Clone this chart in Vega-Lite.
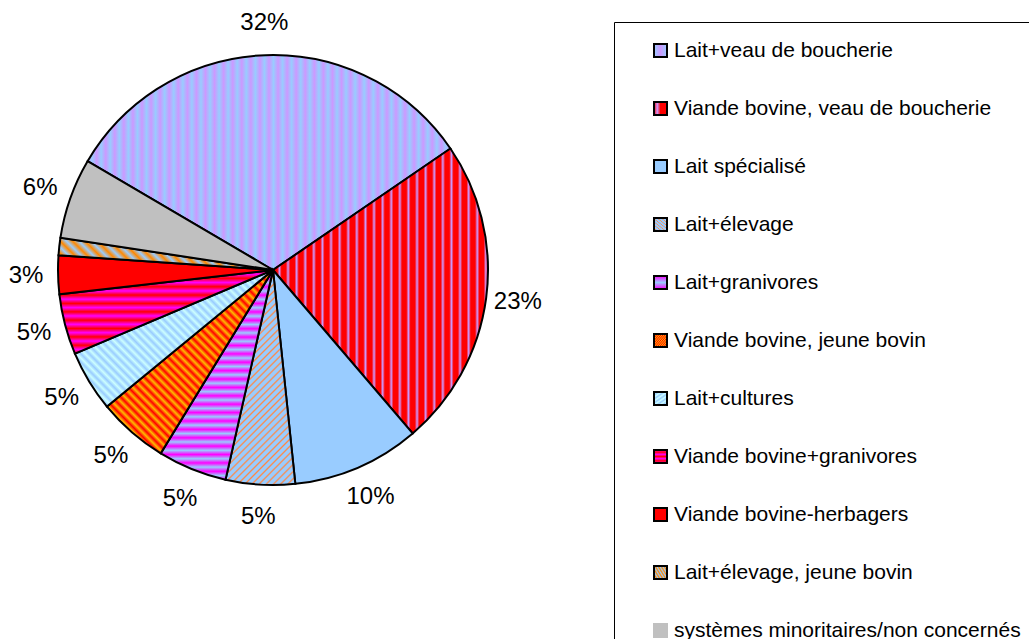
{
  "$schema": "https://vega.github.io/schema/vega-lite/v6.json",
  "width": 546,
  "height": 540,
  "autosize": {"type": "none"},
  "padding": {"left": 0, "top": 0, "right": 483, "bottom": 99},
  "background": "white",
  "config": {"view": {"stroke": null}, "font": "Liberation Sans"},
  "data": {
    "values": [
      {"idx": 1, "name": "Lait+veau de boucherie", "share": 0.32},
      {"idx": 2, "name": "Viande bovine, veau de boucherie", "share": 0.233},
      {"idx": 3, "name": "Lait spécialisé", "share": 0.096},
      {"idx": 4, "name": "Lait+élevage", "share": 0.052},
      {"idx": 5, "name": "Lait+granivores", "share": 0.052},
      {"idx": 6, "name": "Viande bovine, jeune bovin", "share": 0.053},
      {"idx": 7, "name": "Lait+cultures", "share": 0.046},
      {"idx": 8, "name": "Viande bovine+granivores", "share": 0.0455},
      {"idx": 9, "name": "Viande bovine-herbagers", "share": 0.029},
      {"idx": 10, "name": "Lait+élevage, jeune bovin", "share": 0.013},
      {"idx": 11, "name": "systèmes minoritaires/non concernés", "share": 0.0605}
    ]
  },
  "encoding": {
    "theta": {"field": "share", "type": "quantitative", "stack": true, "scale": {"domain": [0, 1], "range": [-1.0402, 5.2430]}},
    "order": {"field": "idx", "type": "quantitative"}
  },
  "layer": [
    {
      "mark": {"type": "arc", "outerRadius": 215, "stroke": "#000", "strokeWidth": 2},
      "encoding": {
        "color": {
          "field": "name",
          "type": "nominal",
          "scale": {
            "domain": ["Lait+veau de boucherie", "Viande bovine, veau de boucherie", "Lait spécialisé", "Lait+élevage", "Lait+granivores", "Viande bovine, jeune bovin", "Lait+cultures", "Viande bovine+granivores", "Viande bovine-herbagers", "Lait+élevage, jeune bovin", "systèmes minoritaires/non concernés"],
            "range": [
              {"expr": "{gradient:'linear',x1:0,y1:0,x2:1,y2:0,stops:[{offset:0,color:'#c9f'},{offset:0.0125,color:'#9cf'},{offset:0.025,color:'#c9f'},{offset:0.0375,color:'#9cf'},{offset:0.05,color:'#c9f'},{offset:0.0625,color:'#9cf'},{offset:0.075,color:'#c9f'},{offset:0.0875,color:'#9cf'},{offset:0.1,color:'#c9f'},{offset:0.1125,color:'#9cf'},{offset:0.125,color:'#c9f'},{offset:0.1375,color:'#9cf'},{offset:0.15,color:'#c9f'},{offset:0.1625,color:'#9cf'},{offset:0.175,color:'#c9f'},{offset:0.1875,color:'#9cf'},{offset:0.2,color:'#c9f'},{offset:0.2125,color:'#9cf'},{offset:0.225,color:'#c9f'},{offset:0.2375,color:'#9cf'},{offset:0.25,color:'#c9f'},{offset:0.2625,color:'#9cf'},{offset:0.275,color:'#c9f'},{offset:0.2875,color:'#9cf'},{offset:0.3,color:'#c9f'},{offset:0.3125,color:'#9cf'},{offset:0.325,color:'#c9f'},{offset:0.3375,color:'#9cf'},{offset:0.35,color:'#c9f'},{offset:0.3625,color:'#9cf'},{offset:0.375,color:'#c9f'},{offset:0.3875,color:'#9cf'},{offset:0.4,color:'#c9f'},{offset:0.4125,color:'#9cf'},{offset:0.425,color:'#c9f'},{offset:0.4375,color:'#9cf'},{offset:0.45,color:'#c9f'},{offset:0.4625,color:'#9cf'},{offset:0.475,color:'#c9f'},{offset:0.4875,color:'#9cf'},{offset:0.5,color:'#c9f'},{offset:0.5125,color:'#9cf'},{offset:0.525,color:'#c9f'},{offset:0.5375,color:'#9cf'},{offset:0.55,color:'#c9f'},{offset:0.5625,color:'#9cf'},{offset:0.575,color:'#c9f'},{offset:0.5875,color:'#9cf'},{offset:0.6,color:'#c9f'},{offset:0.6125,color:'#9cf'},{offset:0.625,color:'#c9f'},{offset:0.6375,color:'#9cf'},{offset:0.65,color:'#c9f'},{offset:0.6625,color:'#9cf'},{offset:0.675,color:'#c9f'},{offset:0.6875,color:'#9cf'},{offset:0.7,color:'#c9f'},{offset:0.7125,color:'#9cf'},{offset:0.725,color:'#c9f'},{offset:0.7375,color:'#9cf'},{offset:0.75,color:'#c9f'},{offset:0.7625,color:'#9cf'},{offset:0.775,color:'#c9f'},{offset:0.7875,color:'#9cf'},{offset:0.8,color:'#c9f'},{offset:0.8125,color:'#9cf'},{offset:0.825,color:'#c9f'},{offset:0.8375,color:'#9cf'},{offset:0.85,color:'#c9f'},{offset:0.8625,color:'#9cf'},{offset:0.875,color:'#c9f'},{offset:0.8875,color:'#9cf'},{offset:0.9,color:'#c9f'},{offset:0.9125,color:'#9cf'},{offset:0.925,color:'#c9f'},{offset:0.9375,color:'#9cf'},{offset:0.95,color:'#c9f'},{offset:0.9625,color:'#9cf'},{offset:0.975,color:'#c9f'},{offset:0.9875,color:'#9cf'},{offset:1,color:'#c9f'}]}"},
              {"expr": "{gradient:'linear',x1:0,y1:0,x2:1,y2:0,stops:[{offset:0,color:'#f00'},{offset:0.02,color:'#f00'},{offset:0.03,color:'#c9f'},{offset:0.04,color:'#f00'},{offset:0.06,color:'#f00'},{offset:0.07,color:'#c9f'},{offset:0.08,color:'#f00'},{offset:0.1,color:'#f00'},{offset:0.11,color:'#c9f'},{offset:0.12,color:'#f00'},{offset:0.14,color:'#f00'},{offset:0.15,color:'#c9f'},{offset:0.16,color:'#f00'},{offset:0.18,color:'#f00'},{offset:0.19,color:'#c9f'},{offset:0.2,color:'#f00'},{offset:0.22,color:'#f00'},{offset:0.23,color:'#c9f'},{offset:0.24,color:'#f00'},{offset:0.26,color:'#f00'},{offset:0.27,color:'#c9f'},{offset:0.28,color:'#f00'},{offset:0.3,color:'#f00'},{offset:0.31,color:'#c9f'},{offset:0.32,color:'#f00'},{offset:0.34,color:'#f00'},{offset:0.35,color:'#c9f'},{offset:0.36,color:'#f00'},{offset:0.38,color:'#f00'},{offset:0.39,color:'#c9f'},{offset:0.4,color:'#f00'},{offset:0.42,color:'#f00'},{offset:0.43,color:'#c9f'},{offset:0.44,color:'#f00'},{offset:0.46,color:'#f00'},{offset:0.47,color:'#c9f'},{offset:0.48,color:'#f00'},{offset:0.5,color:'#f00'},{offset:0.51,color:'#c9f'},{offset:0.52,color:'#f00'},{offset:0.54,color:'#f00'},{offset:0.55,color:'#c9f'},{offset:0.56,color:'#f00'},{offset:0.58,color:'#f00'},{offset:0.59,color:'#c9f'},{offset:0.6,color:'#f00'},{offset:0.62,color:'#f00'},{offset:0.63,color:'#c9f'},{offset:0.64,color:'#f00'},{offset:0.66,color:'#f00'},{offset:0.67,color:'#c9f'},{offset:0.68,color:'#f00'},{offset:0.7,color:'#f00'},{offset:0.71,color:'#c9f'},{offset:0.72,color:'#f00'},{offset:0.74,color:'#f00'},{offset:0.75,color:'#c9f'},{offset:0.76,color:'#f00'},{offset:0.78,color:'#f00'},{offset:0.79,color:'#c9f'},{offset:0.8,color:'#f00'},{offset:0.82,color:'#f00'},{offset:0.83,color:'#c9f'},{offset:0.84,color:'#f00'},{offset:0.86,color:'#f00'},{offset:0.87,color:'#c9f'},{offset:0.88,color:'#f00'},{offset:0.9,color:'#f00'},{offset:0.91,color:'#c9f'},{offset:0.92,color:'#f00'},{offset:0.94,color:'#f00'},{offset:0.95,color:'#c9f'},{offset:0.96,color:'#f00'},{offset:0.98,color:'#f00'},{offset:0.99,color:'#c9f'},{offset:1,color:'#f00'}]}"},
              "#99CCFF",
              {"expr": "{gradient:'linear',x1:0,y1:0,x2:0.39,y2:1.2,stops:[{offset:0,color:'#9cf'},{offset:0.0125,color:'#9cf'},{offset:0.01875,color:'#f84'},{offset:0.025,color:'#9cf'},{offset:0.0375,color:'#9cf'},{offset:0.04375,color:'#f84'},{offset:0.05,color:'#9cf'},{offset:0.0625,color:'#9cf'},{offset:0.06875,color:'#f84'},{offset:0.075,color:'#9cf'},{offset:0.0875,color:'#9cf'},{offset:0.09375,color:'#f84'},{offset:0.1,color:'#9cf'},{offset:0.1125,color:'#9cf'},{offset:0.11875,color:'#f84'},{offset:0.125,color:'#9cf'},{offset:0.1375,color:'#9cf'},{offset:0.14375,color:'#f84'},{offset:0.15,color:'#9cf'},{offset:0.1625,color:'#9cf'},{offset:0.16875,color:'#f84'},{offset:0.175,color:'#9cf'},{offset:0.1875,color:'#9cf'},{offset:0.19375,color:'#f84'},{offset:0.2,color:'#9cf'},{offset:0.2125,color:'#9cf'},{offset:0.21875,color:'#f84'},{offset:0.225,color:'#9cf'},{offset:0.2375,color:'#9cf'},{offset:0.24375,color:'#f84'},{offset:0.25,color:'#9cf'},{offset:0.2625,color:'#9cf'},{offset:0.26875,color:'#f84'},{offset:0.275,color:'#9cf'},{offset:0.2875,color:'#9cf'},{offset:0.29375,color:'#f84'},{offset:0.3,color:'#9cf'},{offset:0.3125,color:'#9cf'},{offset:0.31875,color:'#f84'},{offset:0.325,color:'#9cf'},{offset:0.3375,color:'#9cf'},{offset:0.34375,color:'#f84'},{offset:0.35,color:'#9cf'},{offset:0.3625,color:'#9cf'},{offset:0.36875,color:'#f84'},{offset:0.375,color:'#9cf'},{offset:0.3875,color:'#9cf'},{offset:0.39375,color:'#f84'},{offset:0.4,color:'#9cf'},{offset:0.4125,color:'#9cf'},{offset:0.41875,color:'#f84'},{offset:0.425,color:'#9cf'},{offset:0.4375,color:'#9cf'},{offset:0.44375,color:'#f84'},{offset:0.45,color:'#9cf'},{offset:0.4625,color:'#9cf'},{offset:0.46875,color:'#f84'},{offset:0.475,color:'#9cf'},{offset:0.4875,color:'#9cf'},{offset:0.49375,color:'#f84'},{offset:0.5,color:'#9cf'},{offset:0.5125,color:'#9cf'},{offset:0.51875,color:'#f84'},{offset:0.525,color:'#9cf'},{offset:0.5375,color:'#9cf'},{offset:0.54375,color:'#f84'},{offset:0.55,color:'#9cf'},{offset:0.5625,color:'#9cf'},{offset:0.56875,color:'#f84'},{offset:0.575,color:'#9cf'},{offset:0.5875,color:'#9cf'},{offset:0.59375,color:'#f84'},{offset:0.6,color:'#9cf'},{offset:0.6125,color:'#9cf'},{offset:0.61875,color:'#f84'},{offset:0.625,color:'#9cf'},{offset:0.6375,color:'#9cf'},{offset:0.64375,color:'#f84'},{offset:0.65,color:'#9cf'},{offset:0.6625,color:'#9cf'},{offset:0.66875,color:'#f84'},{offset:0.675,color:'#9cf'},{offset:0.6875,color:'#9cf'},{offset:0.69375,color:'#f84'},{offset:0.7,color:'#9cf'},{offset:0.7125,color:'#9cf'},{offset:0.71875,color:'#f84'},{offset:0.725,color:'#9cf'},{offset:0.7375,color:'#9cf'},{offset:0.74375,color:'#f84'},{offset:0.75,color:'#9cf'},{offset:0.7625,color:'#9cf'},{offset:0.76875,color:'#f84'},{offset:0.775,color:'#9cf'},{offset:0.7875,color:'#9cf'},{offset:0.79375,color:'#f84'},{offset:0.8,color:'#9cf'},{offset:0.8125,color:'#9cf'},{offset:0.81875,color:'#f84'},{offset:0.825,color:'#9cf'},{offset:0.8375,color:'#9cf'},{offset:0.84375,color:'#f84'},{offset:0.85,color:'#9cf'},{offset:0.8625,color:'#9cf'},{offset:0.86875,color:'#f84'},{offset:0.875,color:'#9cf'},{offset:0.8875,color:'#9cf'},{offset:0.89375,color:'#f84'},{offset:0.9,color:'#9cf'},{offset:0.9125,color:'#9cf'},{offset:0.91875,color:'#f84'},{offset:0.925,color:'#9cf'},{offset:0.9375,color:'#9cf'},{offset:0.94375,color:'#f84'},{offset:0.95,color:'#9cf'},{offset:0.9625,color:'#9cf'},{offset:0.96875,color:'#f84'},{offset:0.975,color:'#9cf'},{offset:0.9875,color:'#9cf'},{offset:0.99375,color:'#f84'},{offset:1,color:'#9cf'}]}"},
              {"expr": "{gradient:'linear',x1:0,y1:0,x2:0,y2:1,stops:[{offset:0,color:'#f0f'},{offset:0.02,color:'#9cf'},{offset:0.04,color:'#f0f'},{offset:0.06,color:'#9cf'},{offset:0.08,color:'#f0f'},{offset:0.1,color:'#9cf'},{offset:0.12,color:'#f0f'},{offset:0.14,color:'#9cf'},{offset:0.16,color:'#f0f'},{offset:0.18,color:'#9cf'},{offset:0.2,color:'#f0f'},{offset:0.22,color:'#9cf'},{offset:0.24,color:'#f0f'},{offset:0.26,color:'#9cf'},{offset:0.28,color:'#f0f'},{offset:0.3,color:'#9cf'},{offset:0.32,color:'#f0f'},{offset:0.34,color:'#9cf'},{offset:0.36,color:'#f0f'},{offset:0.38,color:'#9cf'},{offset:0.4,color:'#f0f'},{offset:0.42,color:'#9cf'},{offset:0.44,color:'#f0f'},{offset:0.46,color:'#9cf'},{offset:0.48,color:'#f0f'},{offset:0.5,color:'#9cf'},{offset:0.52,color:'#f0f'},{offset:0.54,color:'#9cf'},{offset:0.56,color:'#f0f'},{offset:0.58,color:'#9cf'},{offset:0.6,color:'#f0f'},{offset:0.62,color:'#9cf'},{offset:0.64,color:'#f0f'},{offset:0.66,color:'#9cf'},{offset:0.68,color:'#f0f'},{offset:0.7,color:'#9cf'},{offset:0.72,color:'#f0f'},{offset:0.74,color:'#9cf'},{offset:0.76,color:'#f0f'},{offset:0.78,color:'#9cf'},{offset:0.8,color:'#f0f'},{offset:0.82,color:'#9cf'},{offset:0.84,color:'#f0f'},{offset:0.86,color:'#9cf'},{offset:0.88,color:'#f0f'},{offset:0.9,color:'#9cf'},{offset:0.92,color:'#f0f'},{offset:0.94,color:'#9cf'},{offset:0.96,color:'#f0f'},{offset:0.98,color:'#9cf'},{offset:1,color:'#f0f'}]}"},
              {"expr": "{gradient:'linear',x1:0,y1:1,x2:0.952,y2:-0.043,stops:[{offset:0,color:'#f00'},{offset:0.0125,color:'#fb0'},{offset:0.025,color:'#f00'},{offset:0.0375,color:'#fb0'},{offset:0.05,color:'#f00'},{offset:0.0625,color:'#fb0'},{offset:0.075,color:'#f00'},{offset:0.0875,color:'#fb0'},{offset:0.1,color:'#f00'},{offset:0.1125,color:'#fb0'},{offset:0.125,color:'#f00'},{offset:0.1375,color:'#fb0'},{offset:0.15,color:'#f00'},{offset:0.1625,color:'#fb0'},{offset:0.175,color:'#f00'},{offset:0.1875,color:'#fb0'},{offset:0.2,color:'#f00'},{offset:0.2125,color:'#fb0'},{offset:0.225,color:'#f00'},{offset:0.2375,color:'#fb0'},{offset:0.25,color:'#f00'},{offset:0.2625,color:'#fb0'},{offset:0.275,color:'#f00'},{offset:0.2875,color:'#fb0'},{offset:0.3,color:'#f00'},{offset:0.3125,color:'#fb0'},{offset:0.325,color:'#f00'},{offset:0.3375,color:'#fb0'},{offset:0.35,color:'#f00'},{offset:0.3625,color:'#fb0'},{offset:0.375,color:'#f00'},{offset:0.3875,color:'#fb0'},{offset:0.4,color:'#f00'},{offset:0.4125,color:'#fb0'},{offset:0.425,color:'#f00'},{offset:0.4375,color:'#fb0'},{offset:0.45,color:'#f00'},{offset:0.4625,color:'#fb0'},{offset:0.475,color:'#f00'},{offset:0.4875,color:'#fb0'},{offset:0.5,color:'#f00'},{offset:0.5125,color:'#fb0'},{offset:0.525,color:'#f00'},{offset:0.5375,color:'#fb0'},{offset:0.55,color:'#f00'},{offset:0.5625,color:'#fb0'},{offset:0.575,color:'#f00'},{offset:0.5875,color:'#fb0'},{offset:0.6,color:'#f00'},{offset:0.6125,color:'#fb0'},{offset:0.625,color:'#f00'},{offset:0.6375,color:'#fb0'},{offset:0.65,color:'#f00'},{offset:0.6625,color:'#fb0'},{offset:0.675,color:'#f00'},{offset:0.6875,color:'#fb0'},{offset:0.7,color:'#f00'},{offset:0.7125,color:'#fb0'},{offset:0.725,color:'#f00'},{offset:0.7375,color:'#fb0'},{offset:0.75,color:'#f00'},{offset:0.7625,color:'#fb0'},{offset:0.775,color:'#f00'},{offset:0.7875,color:'#fb0'},{offset:0.8,color:'#f00'},{offset:0.8125,color:'#fb0'},{offset:0.825,color:'#f00'},{offset:0.8375,color:'#fb0'},{offset:0.85,color:'#f00'},{offset:0.8625,color:'#fb0'},{offset:0.875,color:'#f00'},{offset:0.8875,color:'#fb0'},{offset:0.9,color:'#f00'},{offset:0.9125,color:'#fb0'},{offset:0.925,color:'#f00'},{offset:0.9375,color:'#fb0'},{offset:0.95,color:'#f00'},{offset:0.9625,color:'#fb0'},{offset:0.975,color:'#f00'},{offset:0.9875,color:'#fb0'},{offset:1,color:'#f00'}]}"},
              {"expr": "{gradient:'linear',x1:0,y1:1,x2:1.147,y2:0.214,stops:[{offset:0,color:'#9cf'},{offset:0.0125,color:'#cff'},{offset:0.025,color:'#9cf'},{offset:0.0375,color:'#cff'},{offset:0.05,color:'#9cf'},{offset:0.0625,color:'#cff'},{offset:0.075,color:'#9cf'},{offset:0.0875,color:'#cff'},{offset:0.1,color:'#9cf'},{offset:0.1125,color:'#cff'},{offset:0.125,color:'#9cf'},{offset:0.1375,color:'#cff'},{offset:0.15,color:'#9cf'},{offset:0.1625,color:'#cff'},{offset:0.175,color:'#9cf'},{offset:0.1875,color:'#cff'},{offset:0.2,color:'#9cf'},{offset:0.2125,color:'#cff'},{offset:0.225,color:'#9cf'},{offset:0.2375,color:'#cff'},{offset:0.25,color:'#9cf'},{offset:0.2625,color:'#cff'},{offset:0.275,color:'#9cf'},{offset:0.2875,color:'#cff'},{offset:0.3,color:'#9cf'},{offset:0.3125,color:'#cff'},{offset:0.325,color:'#9cf'},{offset:0.3375,color:'#cff'},{offset:0.35,color:'#9cf'},{offset:0.3625,color:'#cff'},{offset:0.375,color:'#9cf'},{offset:0.3875,color:'#cff'},{offset:0.4,color:'#9cf'},{offset:0.4125,color:'#cff'},{offset:0.425,color:'#9cf'},{offset:0.4375,color:'#cff'},{offset:0.45,color:'#9cf'},{offset:0.4625,color:'#cff'},{offset:0.475,color:'#9cf'},{offset:0.4875,color:'#cff'},{offset:0.5,color:'#9cf'},{offset:0.5125,color:'#cff'},{offset:0.525,color:'#9cf'},{offset:0.5375,color:'#cff'},{offset:0.55,color:'#9cf'},{offset:0.5625,color:'#cff'},{offset:0.575,color:'#9cf'},{offset:0.5875,color:'#cff'},{offset:0.6,color:'#9cf'},{offset:0.6125,color:'#cff'},{offset:0.625,color:'#9cf'},{offset:0.6375,color:'#cff'},{offset:0.65,color:'#9cf'},{offset:0.6625,color:'#cff'},{offset:0.675,color:'#9cf'},{offset:0.6875,color:'#cff'},{offset:0.7,color:'#9cf'},{offset:0.7125,color:'#cff'},{offset:0.725,color:'#9cf'},{offset:0.7375,color:'#cff'},{offset:0.75,color:'#9cf'},{offset:0.7625,color:'#cff'},{offset:0.775,color:'#9cf'},{offset:0.7875,color:'#cff'},{offset:0.8,color:'#9cf'},{offset:0.8125,color:'#cff'},{offset:0.825,color:'#9cf'},{offset:0.8375,color:'#cff'},{offset:0.85,color:'#9cf'},{offset:0.8625,color:'#cff'},{offset:0.875,color:'#9cf'},{offset:0.8875,color:'#cff'},{offset:0.9,color:'#9cf'},{offset:0.9125,color:'#cff'},{offset:0.925,color:'#9cf'},{offset:0.9375,color:'#cff'},{offset:0.95,color:'#9cf'},{offset:0.9625,color:'#cff'},{offset:0.975,color:'#9cf'},{offset:0.9875,color:'#cff'},{offset:1,color:'#9cf'}]}"},
              {"expr": "{gradient:'linear',x1:0,y1:0,x2:0,y2:1,stops:[{offset:0,color:'#f00'},{offset:0.05,color:'#f0f'},{offset:0.1,color:'#f00'},{offset:0.15,color:'#f0f'},{offset:0.2,color:'#f00'},{offset:0.25,color:'#f0f'},{offset:0.3,color:'#f00'},{offset:0.35,color:'#f0f'},{offset:0.4,color:'#f00'},{offset:0.45,color:'#f0f'},{offset:0.5,color:'#f00'},{offset:0.55,color:'#f0f'},{offset:0.6,color:'#f00'},{offset:0.65,color:'#f0f'},{offset:0.7,color:'#f00'},{offset:0.75,color:'#f0f'},{offset:0.8,color:'#f00'},{offset:0.85,color:'#f0f'},{offset:0.9,color:'#f00'},{offset:0.95,color:'#f0f'},{offset:1,color:'#f00'}]}"},
              "#FF0000",
              {"expr": "{gradient:'linear',x1:0,y1:1,x2:1.126,y2:0.829,stops:[{offset:0,color:'#9cf'},{offset:0.025,color:'#f80'},{offset:0.05,color:'#9cf'},{offset:0.075,color:'#f80'},{offset:0.1,color:'#9cf'},{offset:0.125,color:'#f80'},{offset:0.15,color:'#9cf'},{offset:0.175,color:'#f80'},{offset:0.2,color:'#9cf'},{offset:0.225,color:'#f80'},{offset:0.25,color:'#9cf'},{offset:0.275,color:'#f80'},{offset:0.3,color:'#9cf'},{offset:0.325,color:'#f80'},{offset:0.35,color:'#9cf'},{offset:0.375,color:'#f80'},{offset:0.4,color:'#9cf'},{offset:0.425,color:'#f80'},{offset:0.45,color:'#9cf'},{offset:0.475,color:'#f80'},{offset:0.5,color:'#9cf'},{offset:0.525,color:'#f80'},{offset:0.55,color:'#9cf'},{offset:0.575,color:'#f80'},{offset:0.6,color:'#9cf'},{offset:0.625,color:'#f80'},{offset:0.65,color:'#9cf'},{offset:0.675,color:'#f80'},{offset:0.7,color:'#9cf'},{offset:0.725,color:'#f80'},{offset:0.75,color:'#9cf'},{offset:0.775,color:'#f80'},{offset:0.8,color:'#9cf'},{offset:0.825,color:'#f80'},{offset:0.85,color:'#9cf'},{offset:0.875,color:'#f80'},{offset:0.9,color:'#9cf'},{offset:0.925,color:'#f80'},{offset:0.95,color:'#9cf'},{offset:0.975,color:'#f80'},{offset:1,color:'#9cf'}]}"},
              "#C0C0C0"
            ]
          },
          "legend": {
            "title": null,
            "orient": "none",
            "legendX": 614,
            "legendY": 22,
            "padding": 18,
            "strokeColor": "#000",
            "fillColor": "#fff",
            "labelFontSize": 21,
            "labelFont": "Liberation Sans",
            "labelColor": "#000",
            "labelLimit": 0,
            "symbolType": "square",
            "symbolSize": 169,
            "symbolStrokeColor": "#000",
            "symbolStrokeWidth": 2,
            "symbolOffset": 18,
            "labelOffset": 3,
            "rowPadding": 36,
            "encode": {
              "symbols": {
                "update": {
                  "stroke": [
                    {"test": "datum.value === 'systèmes minoritaires/non concernés'", "value": "#C0C0C0"},
                    {"value": "#000"}
                  ]
                }
              }
            }
          }
        }
      }
    },
    {
      "mark": {"type": "text", "radius": 247, "fontSize": 24, "font": "Liberation Sans", "fill": "#000"},
      "encoding": {
        "text": {"condition": {"test": "datum.idx == 10", "value": ""}, "field": "share", "type": "quantitative", "format": ".0%"}
      }
    }
  ]
}
